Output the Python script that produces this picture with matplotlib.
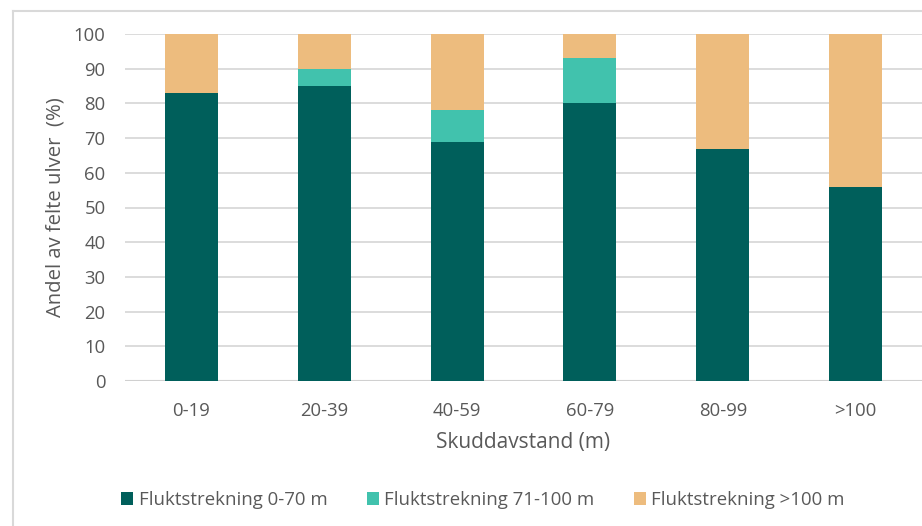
import matplotlib
matplotlib.use("Agg")
import matplotlib.pyplot as plt
from matplotlib.patches import Patch
from matplotlib.lines import Line2D

categories = ["0-19", "20-39", "40-59", "60-79", "80-99", ">100"]
flukt_0_70 = [83, 85, 69, 80, 67, 56]
flukt_71_100 = [0, 5, 9, 13, 0, 0]
flukt_over_100 = [17, 10, 22, 7, 33, 44]
series_labels = ["Fluktstrekning 0-70 m", "Fluktstrekning 71-100 m", "Fluktstrekning >100 m"]
colors = ["#005F5B", "#41C2AD", "#EDBC7E"]
yticks = [0, 10, 20, 30, 40, 50, 60, 70, 80, 90, 100]

plt.rcParams['font.family'] = ['Open Sans', 'DejaVu Sans']
text_color = "#595959"

fig = plt.figure(figsize=(9.22, 5.26), dpi=100)
ax = fig.add_axes([125/922, 1-381/526, 1-125/922, (381-34)/526])

x = list(range(len(categories)))
w = 0.4
ax.bar(x, flukt_0_70, width=w, color=colors[0], zorder=3)
ax.bar(x, flukt_71_100, width=w, bottom=flukt_0_70, color=colors[1], zorder=3)
bottom3 = [a + b for a, b in zip(flukt_0_70, flukt_71_100)]
ax.bar(x, flukt_over_100, width=w, bottom=bottom3, color=colors[2], zorder=3)

ax.set_xlim(-0.5, len(categories) - 0.5)
ax.set_ylim(0, 100)
ax.set_yticks(yticks)
ax.set_xticks(x)
ax.set_xticklabels(categories)
for s in ["top", "right", "left", "bottom"]:
    ax.spines[s].set_visible(False)
ax.yaxis.grid(True, color="#D9D9D9", linewidth=1.3, zorder=0)
ax.axhline(0, color="#D0D0D0", linewidth=1.5, zorder=2)
ax.tick_params(axis="both", length=0, labelsize=13.3, colors=text_color)
ax.tick_params(axis="y", pad=14)
ax.tick_params(axis="x", pad=15)

ax.set_xlabel("Skuddavstand (m)", fontsize=15, color=text_color, labelpad=9)
ax.set_ylabel("Andel av felte ulver  (%)", fontsize=14.6, color=text_color, labelpad=6)

handles = [Patch(facecolor=c, edgecolor="none") for c in colors]
leg = fig.legend(handles, series_labels, loc="center", bbox_to_anchor=(483/922, 1-500/526),
                 ncol=3, frameon=False, fontsize=13.4, handlelength=0.65, handleheight=0.65,
                 handletextpad=0.3, columnspacing=2.1, borderpad=0)
for t in leg.get_texts():
    t.set_color(text_color)

# figure border (left and top visible)
fig.add_artist(Line2D([13/922, 13/922], [0, 1-11/526], transform=fig.transFigure,
                      color="#D9D9D9", linewidth=1.5))
fig.add_artist(Line2D([13/922, 1], [1-11/526, 1-11/526], transform=fig.transFigure,
                      color="#D9D9D9", linewidth=1.5))

fig.savefig("out.png", dpi=100)
